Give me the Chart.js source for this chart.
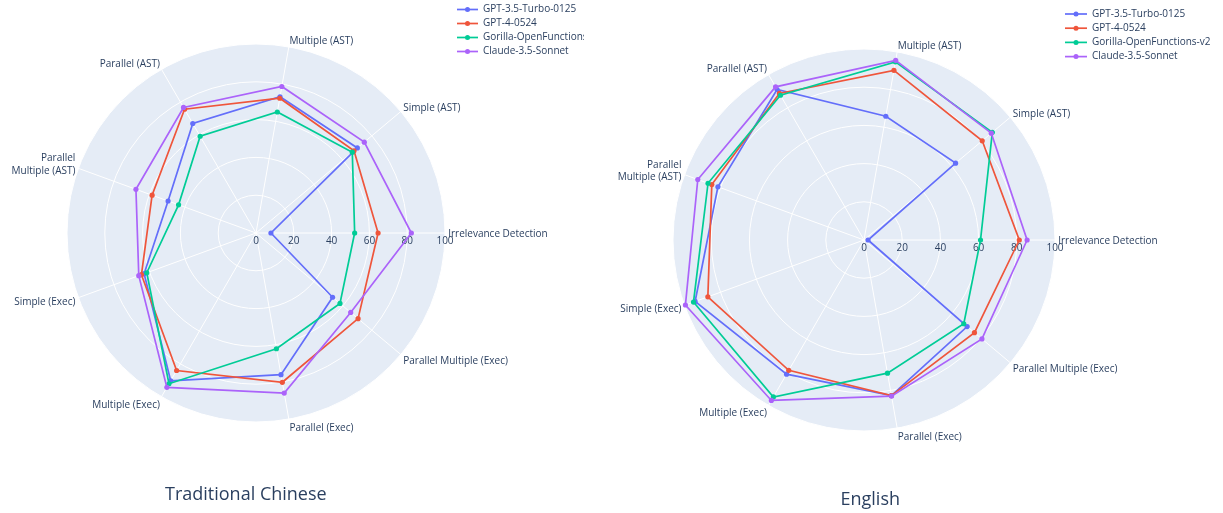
<!DOCTYPE html>
<html>
<head>
<meta charset="utf-8">
<script src="https://cdn.jsdelivr.net/npm/chart.js@4.4.1/dist/chart.umd.min.js"></script>
<style>
  body { margin: 0; background: #fff; }
  #wrap { position: relative; width: 1223px; height: 513px; overflow: hidden; }
  canvas { position: absolute; top: 0; }
  #left { left: 0; }
  #right { left: 600px; }
</style>
</head>
<body>
<div id="wrap">
  <canvas id="left" width="584" height="513"></canvas>
  <canvas id="right" width="623" height="513"></canvas>
</div>
<script>
// ------------------------------------------------------------
// Dados (ordem do Plotly: anti-horário a partir da direita)
// ------------------------------------------------------------
const categories = [
  'Irrelevance Detection', 'Simple (AST)', 'Multiple (AST)', 'Parallel (AST)',
  ['Parallel', 'Multiple (AST)'], 'Simple (Exec)', 'Multiple (Exec)',
  'Parallel (Exec)', 'Parallel Multiple (Exec)'
];
const models = ['GPT-3.5-Turbo-0125', 'GPT-4-0524', 'Gorilla-OpenFunctions-v2', 'Claude-3.5-Sonnet'];
const colors = ['#636efa', '#EF553B', '#00cc96', '#ab63fa'];
const radialTicks = [0, 20, 40, 60, 80, 100];

// Traditional Chinese
const zhGpt35   = [7.9, 70.0, 73.2, 66.9, 49.5, 63.0, 90.3, 76.1, 52.9];
const zhGpt4    = [64.6, 67.7, 72.4, 75.6, 58.5, 64.5, 84.0, 80.2, 70.5];
const zhGorilla = [52.2, 66.5, 65.0, 59.1, 43.6, 61.5, 92.1, 62.2, 58.0];
const zhClaude  = [82.2, 74.8, 78.7, 76.7, 67.6, 66.0, 94.3, 86.0, 65.4];

// English
const enGpt35   = [2.1, 62.6, 65.8, 91.0, 81.4, 94.1, 81.1, 82.7, 70.5];
const enGpt4    = [81.3, 80.8, 90.2, 88.6, 84.8, 87.0, 78.8, 82.7, 75.5];
const enGorilla = [61.0, 87.7, 94.7, 87.5, 86.9, 95.0, 94.9, 70.8, 68.2];
const enClaude  = [85.4, 87.0, 95.5, 92.6, 92.6, 99.5, 97.0, 83.0, 80.6];

const textColor = '#2a3f5f';
const FONT = '"Open Sans", sans-serif';

// Chart.js desenha no sentido horário; reordena para ficar anti-horário
const toClockwise = arr => arr.map((_, j) => arr[(arr.length - j) % arr.length]);

// ------------------------------------------------------------
// Plugin: ticks radiais, rótulos angulares, legenda e título
// ------------------------------------------------------------
const plotlyPolar = {
  id: 'plotlyPolar',
  beforeDatasetsDraw(chart) {
    const r = chart.scales.r;
    const ctx = chart.ctx;
    ctx.save();
    ctx.font = `10px ${FONT}`;
    ctx.fillStyle = textColor;
    ctx.textAlign = 'center';
    ctx.textBaseline = 'middle';
    radialTicks.forEach(v => {
      const p = r.getPointPositionForValue(0, v);
      ctx.fillText(String(v), p.x, p.y + 8.5);
    });
    ctx.restore();
  },
  afterDraw(chart, args, opts) {
    const r = chart.scales.r;
    const ctx = chart.ctx;
    ctx.save();
    ctx.font = `10px ${FONT}`;
    ctx.fillStyle = textColor;
    ctx.textBaseline = 'middle';

    // rótulos dos eixos angulares
    chart.data.labels.forEach((lab, i) => {
      const lines = Array.isArray(lab) ? lab : [lab];
      const a = r.getIndexAngle(i) - Math.PI / 2;
      const c = Math.cos(a), s = -Math.sin(a);
      const p = r.getPointPosition(i, r.drawingArea);
      ctx.textAlign = c > 0.05 ? 'left' : (c < -0.05 ? 'right' : 'center');
      const x = p.x + 3.2 * c;
      const yc = p.y - 7.5 * s + 1.5 - (lines.length > 1 ? 2.5 : 0);
      lines.forEach((ln, k) => ctx.fillText(ln, x, yc + (k - (lines.length - 1) / 2) * 12.4));
    });

    // legenda
    const L = opts.legend;
    chart.data.datasets.forEach((ds, i) => {
      const y = L.y0 + i * L.dy;
      ctx.strokeStyle = ds.borderColor;
      ctx.lineWidth = 1.7;
      ctx.beginPath();
      ctx.moveTo(L.x1, y);
      ctx.lineTo(L.x2, y);
      ctx.stroke();
      ctx.fillStyle = ds.borderColor;
      ctx.beginPath();
      ctx.arc((L.x1 + L.x2) / 2, y, 2.5, 0, Math.PI * 2);
      ctx.fill();
      ctx.fillStyle = textColor;
      ctx.textAlign = 'left';
      ctx.fillText(ds.label, L.x2 + 5, y);
    });

    // título inferior
    ctx.font = `18px ${FONT}`;
    ctx.textAlign = 'left';
    ctx.textBaseline = 'alphabetic';
    ctx.fillText(opts.title.text, opts.title.x, opts.title.y);
    ctx.restore();
  }
};

function criarRadar(id, series, padding, legend, title) {
  return new Chart(document.getElementById(id), {
    type: 'radar',
    data: {
      labels: toClockwise(categories),
      datasets: series.map((vals, i) => ({
        label: models[i],
        data: toClockwise(vals),
        borderColor: colors[i],
        backgroundColor: colors[i],
        pointBackgroundColor: colors[i],
        pointBorderWidth: 0,
        pointRadius: 2.6,
        borderWidth: 1.7,
        fill: false,
        order: series.length - 1 - i
      }))
    },
    options: {
      responsive: false,
      animation: false,
      layout: { padding },
      plugins: {
        legend: { display: false },
        tooltip: { enabled: false },
        plotlyPolar: { legend, title }
      },
      scales: {
        r: {
          min: 0,
          max: 100,
          startAngle: 90,
          backgroundColor: '#E5ECF6',
          ticks: { display: false, stepSize: 20 },
          pointLabels: { display: false },
          grid: { circular: true, color: '#ffffff', lineWidth: 1 },
          angleLines: { color: '#ffffff', lineWidth: 1 }
        }
      }
    },
    plugins: [plotlyPolar]
  });
}

criarRadar('left',
  [zhGpt35, zhGpt4, zhGorilla, zhClaude],
  { left: 67, top: 44, right: 139, bottom: 91 },
  { x1: 457, x2: 478, y0: 9.5, dy: 14 },
  { text: 'Traditional Chinese', x: 165, y: 499.5 });

criarRadar('right',
  [enGpt35, enGpt4, enGorilla, enClaude],
  { left: 73, top: 49, right: 168, bottom: 82 },
  { x1: 465, x2: 487, y0: 14, dy: 14.2 },
  { text: 'English', x: 240.5, y: 505 });
</script>
</body>
</html>
